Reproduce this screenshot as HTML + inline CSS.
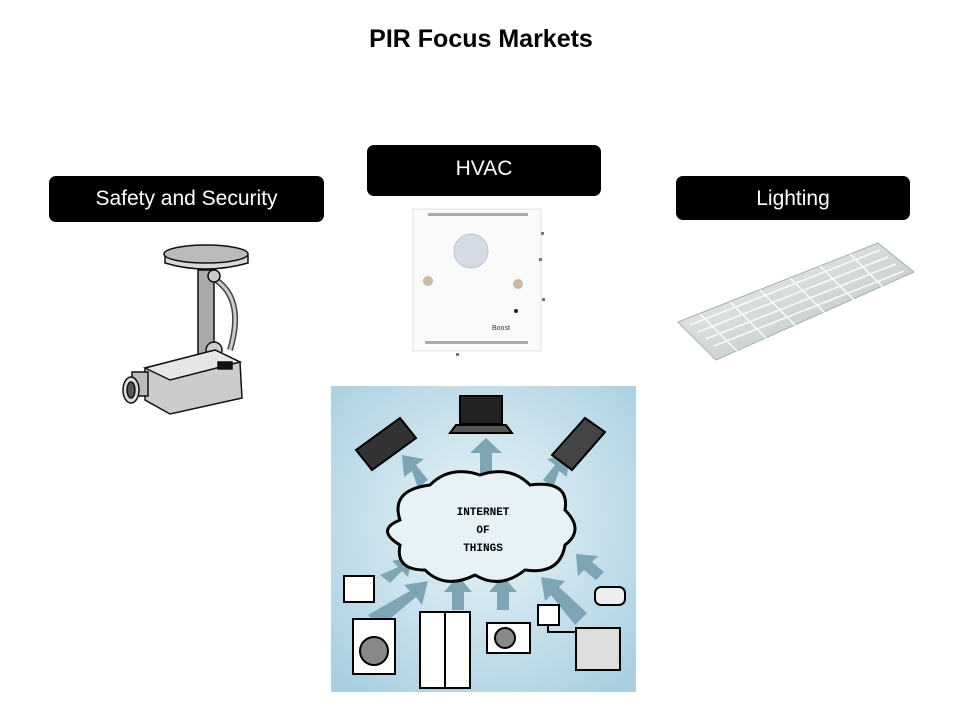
<!DOCTYPE html>
<html><head><meta charset="utf-8"><style>
body{margin:0;width:960px;height:720px;background:#fff;position:relative;overflow:hidden;font-family:"Liberation Sans",sans-serif}
.t{position:absolute;top:25px;left:0;width:962px;text-align:center;font-weight:bold;font-size:25px;color:#000}
.b{position:absolute;background:#000;color:#fff;border-radius:7px;font-size:21px;text-align:center}
svg{position:absolute;left:0;top:0}
</style></head><body>
<div class="t">PIR Focus Markets</div>
<div class="b" style="left:49px;top:176px;width:275px;height:46px;line-height:46px">Safety and Security</div>
<div class="b" style="left:367px;top:145px;width:234px;height:51px;line-height:48px">HVAC</div>
<div class="b" style="left:676px;top:176px;width:234px;height:44px;line-height:46px">Lighting</div>
<svg width="960" height="720" viewBox="0 0 960 720">
<defs>
<radialGradient id="bg" cx="0.5" cy="0.45" r="0.7"><stop offset="0" stop-color="#eaf4f8"/><stop offset="1" stop-color="#a9cfe0"/></radialGradient>
<linearGradient id="lp" x1="0" y1="0" x2="1" y2="1"><stop offset="0" stop-color="#eef1f1"/><stop offset="1" stop-color="#b9c1c1"/></linearGradient>
</defs>
<!-- camera -->
<g stroke="#111" stroke-width="1.5">
<path d="M165 255 Q205 240 248 256 L248 263 Q205 275 165 263Z" fill="#d8d8d8"/>
<ellipse cx="206" cy="254" rx="42" ry="9" fill="#bbb"/>
<path d="M216 280 Q245 300 230 350" fill="none" stroke-width="6" stroke="#444"/>
<path d="M216 280 Q245 300 230 350" fill="none" stroke-width="3" stroke="#ccc"/>
<rect x="198" y="270" width="16" height="90" fill="#aaa"/>
<circle cx="214" cy="276" r="6" fill="#ccc"/>
<circle cx="214" cy="350" r="8" fill="#ccc"/>
<path d="M145 368 L215 350 L240 362 L242 398 L170 414 L145 400Z" fill="#ccc"/>
<path d="M145 368 L215 350 L240 362 L170 380Z" fill="#e6e6e6"/>
<rect x="218" y="362" width="14" height="7" fill="#111"/>
<rect x="132" y="372" width="16" height="24" fill="#bbb"/>
<ellipse cx="131" cy="390" rx="8" ry="13" fill="#ddd"/>
<ellipse cx="131" cy="390" rx="4" ry="8" fill="#555"/>
</g>
<!-- HVAC device -->
<rect x="413" y="209" width="128" height="142" fill="#fafafa" stroke="#e0e0e0"/>
<g fill="#777"><rect x="428" y="213" width="100" height="3" opacity=".6"/><rect x="425" y="341" width="103" height="3" opacity=".6"/>
<rect x="541" y="232" width="3" height="3"/><rect x="539" y="258" width="3" height="3"/><rect x="542" y="298" width="3" height="3"/><rect x="456" y="353" width="3" height="3"/></g>
<circle cx="471" cy="251" r="17" fill="#d4dbe5" stroke="#c0c6cc"/>
<circle cx="428" cy="281" r="5" fill="#c9b9a6"/><circle cx="518" cy="284" r="5" fill="#c9b9a6"/>
<circle cx="516" cy="311" r="2" fill="#222"/>
<text x="492" y="330" font-size="7" fill="#333">Boost</text>
<!-- lighting -->
<path d="M678 322 L878 243 L914 272 L716 360Z" fill="url(#lp)" stroke="#aab0b0"/>
<g stroke="#fff" stroke-width="1.5" opacity=".9">
<path d="M690 325 L880 250"/><path d="M698 332 L888 257"/><path d="M706 339 L896 264"/><path d="M714 346 L904 271"/>
<path d="M700 314 L737 351"/><path d="M730 302 L767 339"/><path d="M760 290 L797 327"/><path d="M790 278 L827 315"/><path d="M820 266 L857 303"/><path d="M850 254 L887 291"/>
</g>
<!-- IoT -->
<rect x="331" y="386" width="305" height="306" fill="url(#bg)"/>
<g fill="#7fa5b5">
<path d="M480 475 h12 v-22 h10 l-16 -15 -16 15 h10z"/>
<path d="M418 488 l10 -8 -12 -15 8 -6 -22 -4 2 22 8 -6z"/>
<path d="M553 488 l-10 -8 12 -15 -8 -6 22 -4 -2 22 -8 -6z"/>
<path d="M380 575 l10 8 12 -12 6 6 4 -20 -20 4 6 6z"/>
<path d="M368 615 l12 12 36 -30 6 8 6 -24 -24 4 6 6z"/>
<path d="M452 610 h12 v-18 h8 l-14 -16 -14 16 h8z"/>
<path d="M497 610 h12 v-18 h8 l-14 -16 -14 16 h8z"/>
<path d="M575 625 l12 -12 -28 -26 6 -6 -24 -4 4 24 6 -6z"/>
<path d="M596 580 l8 -8 -12 -10 6 -6 -22 -2 2 22 6 -6z"/>
</g>
<path d="M400 520 Q390 490 430 485 Q450 465 480 475 Q510 465 530 485 Q570 480 565 510 Q585 530 565 545 Q560 575 525 570 Q500 590 475 575 Q445 590 425 570 Q395 570 400 545 Q375 530 400 520Z" fill="#e6f2f6" stroke="#000" stroke-width="3"/>
<text x="483" y="515" font-size="11" font-weight="bold" text-anchor="middle" font-family="Liberation Mono,monospace">INTERNET</text>
<text x="483" y="533" font-size="11" font-weight="bold" text-anchor="middle" font-family="Liberation Mono,monospace">OF</text>
<text x="483" y="551" font-size="11" font-weight="bold" text-anchor="middle" font-family="Liberation Mono,monospace">THINGS</text>
<g stroke="#000" stroke-width="2">
<rect x="460" y="396" width="42" height="28" fill="#222"/><path d="M450 433 h62 l-6 -8 h-50z" fill="#555"/>
<path d="M356 450 L400 418 L416 438 L372 470Z" fill="#333"/>
<path d="M552 455 L585 418 L605 432 L572 470Z" fill="#444"/>
<rect x="344" y="576" width="30" height="26" fill="#fff"/>
<rect x="353" y="619" width="42" height="55" fill="#fff"/><circle cx="374" cy="651" r="14" fill="#888"/>
<rect x="420" y="612" width="50" height="76" fill="#fff"/><line x1="445" y1="612" x2="445" y2="688"/>
<rect x="487" y="623" width="43" height="30" fill="#fff"/><circle cx="505" cy="638" r="10" fill="#888"/>
<rect x="538" y="605" width="21" height="20" fill="#fff"/>
<path d="M548 625 V632 H578" fill="none"/>
<rect x="576" y="628" width="44" height="42" fill="#ddd"/>
<rect x="595" y="587" width="30" height="18" rx="6" fill="#eee"/>
</g>
</svg>
</body></html>
